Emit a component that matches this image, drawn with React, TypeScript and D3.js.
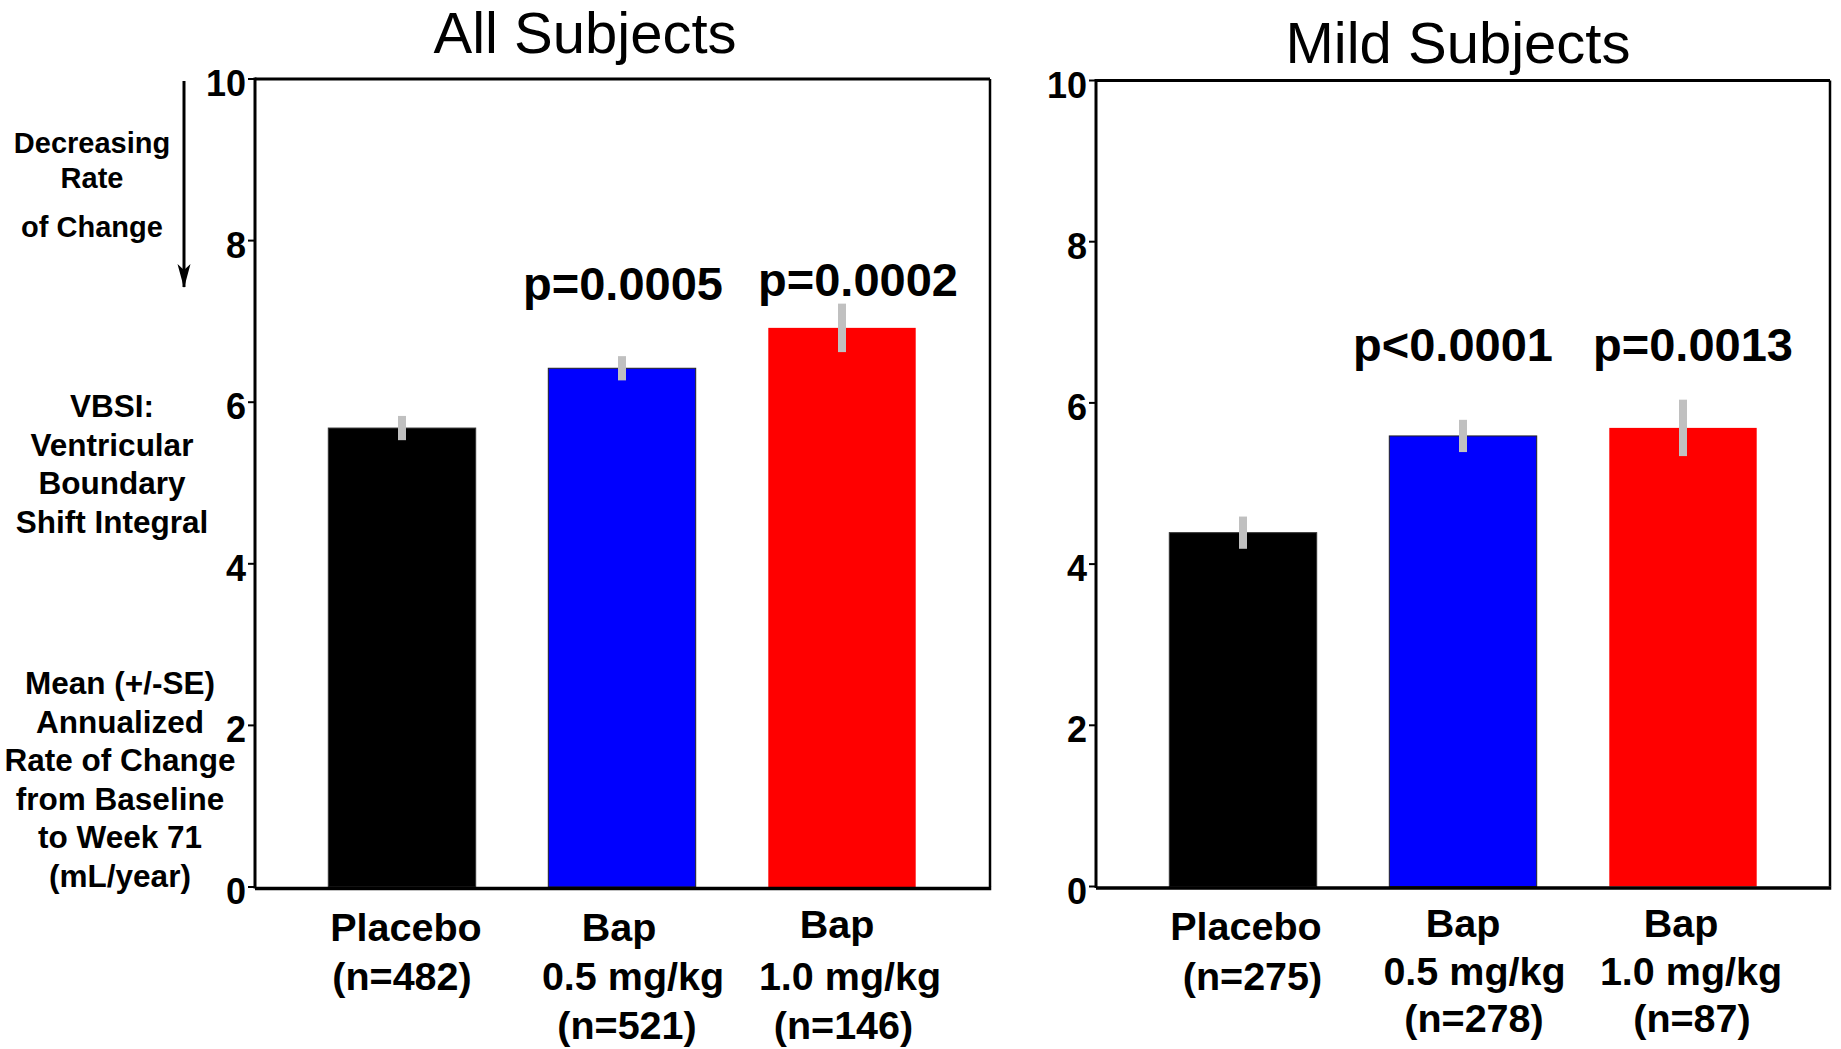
import React from "react";
import * as d3 from "d3";

// Treatment groups and their per-panel statistics
const groupLines: string[][] = [["Placebo"], ["Bap", "0.5 mg/kg"], ["Bap", "1.0 mg/kg"]];
const barColors = ["#000000", "#0000ff", "#ff0000"];
const barStrokes = ["#333333", "#222222", "none"];

const allMeans = [5.68, 6.42, 6.92];
const allSE = [0.15, 0.15, 0.3];
const allN = [482, 521, 146];
const allP = ["", "p=0.0005", "p=0.0002"];

const mildMeans = [4.39, 5.59, 5.69];
const mildSE = [0.2, 0.2, 0.35];
const mildN = [275, 278, 87];
const mildP = ["", "p<0.0001", "p=0.0013"];

const yTicks = [0, 2, 4, 6, 8, 10];

const arrowLabel = ["Decreasing", "Rate", "of Change"];
const vbsiLabel = ["VBSI:", "Ventricular", "Boundary", "Shift Integral"];
const unitLabel = ["Mean (+/-SE)", "Annualized", "Rate of Change", "from Baseline", "to Week 71", "(mL/year)"];

const FONT = "'Liberation Sans', Arial, Helvetica, sans-serif";

type PanelLayout = {
  title: string;
  titleX: number;
  titleY: number;
  x0: number;
  x1: number;
  yTop: number;
  yBottom: number;
  labelBase: number[][];
  labelNudge: number[][];
  pPos: { dx: number; y: number }[];
};

const panels: { layout: PanelLayout; means: number[]; se: number[]; n: number[]; p: string[] }[] = [
  {
    layout: {
      title: "All Subjects",
      titleX: 585,
      titleY: 53,
      x0: 255,
      x1: 990,
      yTop: 79,
      yBottom: 887,
      labelBase: [[941, 990], [941, 990, 1039], [937.5, 990, 1039]],
      labelNudge: [[4, 0], [-3, 11, 5], [-5, 8, 1.5]],
      pPos: [{ dx: 0, y: 0 }, { dx: 1, y: 300 }, { dx: 16, y: 296 }],
    },
    means: allMeans,
    se: allSE,
    n: allN,
    p: allP,
  },
  {
    layout: {
      title: "Mild Subjects",
      titleX: 1458,
      titleY: 63,
      x0: 1096,
      x1: 1830,
      yTop: 80.5,
      yBottom: 886.5,
      labelBase: [[940, 990], [936.5, 985, 1032], [936.5, 985, 1032]],
      labelNudge: [[3, 9.5], [0, 11.5, 11], [-2, 8, 9]],
      pPos: [{ dx: 0, y: 0 }, { dx: -10, y: 361 }, { dx: 10, y: 361 }],
    },
    means: mildMeans,
    se: mildSE,
    n: mildN,
    p: mildP,
  },
];

function Panel({ layout, means, se, n, p }: (typeof panels)[number]) {
  const y = d3.scaleLinear().domain([0, 10]).range([layout.yBottom, layout.yTop]);
  const x = d3
    .scaleBand<number>()
    .domain(d3.range(means.length))
    .range([layout.x0 + 37, layout.x0 + 697])
    .paddingInner(0.33)
    .paddingOuter(0.165);
  const bw = x.bandwidth();

  return (
    <g>
      <text
        x={layout.titleX}
        y={layout.titleY}
        textAnchor="middle"
        fontFamily={FONT}
        fontSize={58}
        fill="#000"
      >
        {layout.title}
      </text>

      {/* bars */}
      {means.map((m, i) => (
        <rect
          key={"b" + i}
          x={x(i)!}
          y={y(m)}
          width={bw}
          height={y(0) - y(m)}
          fill={barColors[i]}
          stroke={barStrokes[i]}
          strokeWidth={1}
        />
      ))}

      {/* standard-error bars */}
      {means.map((m, i) => (
        <line
          key={"e" + i}
          x1={x(i)! + bw / 2}
          x2={x(i)! + bw / 2}
          y1={y(m + se[i])}
          y2={y(m - se[i])}
          stroke="#c0c0c0"
          strokeWidth={8}
        />
      ))}

      {/* frame */}
      <line x1={layout.x0} x2={layout.x1} y1={layout.yTop} y2={layout.yTop} stroke="#000" strokeWidth={3} />
      <line x1={layout.x1} x2={layout.x1} y1={layout.yTop} y2={layout.yBottom} stroke="#000" strokeWidth={2.5} />
      <line x1={layout.x0} x2={layout.x0} y1={layout.yTop - 1.5} y2={layout.yBottom + 1.5} stroke="#000" strokeWidth={3} />
      <line x1={layout.x0} x2={layout.x1 + 1.25} y1={layout.yBottom + 1.5} y2={layout.yBottom + 1.5} stroke="#000" strokeWidth={3.5} />

      {/* y ticks */}
      {yTicks.map((t) => (
        <g key={"t" + t}>
          <line x1={layout.x0 - 7} x2={layout.x0} y1={y(t)} y2={y(t)} stroke="#000" strokeWidth={2} />
          <text
            x={layout.x0 - 9}
            y={y(t) + 17}
            textAnchor="end"
            fontFamily={FONT}
            fontWeight="bold"
            fontSize={36}
            fill="#000"
          >
            {t}
          </text>
        </g>
      ))}

      {/* p-values */}
      {p.map((s, i) =>
        s ? (
          <text
            key={"p" + i}
            x={x(i)! + bw / 2 + layout.pPos[i].dx}
            y={layout.pPos[i].y}
            textAnchor="middle"
            fontFamily={FONT}
            fontWeight="bold"
            fontSize={47}
            fill="#000"
          >
            {s}
          </text>
        ) : null
      )}

      {/* category labels */}
      {groupLines.map((lines, i) =>
        [...lines, `(n=${n[i]})`].map((line, j) => (
          <text
            key={"c" + i + "-" + j}
            x={x(i)! + bw / 2 + layout.labelNudge[i][j]}
            y={layout.labelBase[i][j]}
            textAnchor="middle"
            fontFamily={FONT}
            fontWeight="bold"
            fontSize={39.5}
            fill="#000"
          >
            {line}
          </text>
        ))
      )}
    </g>
  );
}

export default function App() {
  return (
    <svg
      width={1841}
      height={1049}
      style={{ position: "absolute", left: 0, top: 0, background: "#fff" }}
    >
      <defs>
        <marker id="arrowHead" viewBox="0 0 14 24" refX={7} refY={24} markerWidth={14} markerHeight={24} markerUnits="userSpaceOnUse" orient="auto-start-reverse">
          <path d="M0,0 L7,4 L14,0 L7,24 Z" fill="#000" />
        </marker>
      </defs>
      <rect x={0} y={0} width={1841} height={1049} fill="#fff" />

      {/* direction arrow with its caption */}
      <line x1={184} x2={184} y1={81} y2={287} stroke="#000" strokeWidth={3} />
      <path d="M177.5,264 L184,270 L190.5,264 L184,288 Z" fill="#000" />
      {arrowLabel.map((s, i) => (
        <text key={"a" + i} x={92} y={[153, 188, 237][i]} textAnchor="middle" fontFamily={FONT} fontWeight="bold" fontSize={29} fill="#000">
          {s}
        </text>
      ))}
      {vbsiLabel.map((s, i) => (
        <text key={"v" + i} x={112} y={417 + i * 38.5} textAnchor="middle" fontFamily={FONT} fontWeight="bold" fontSize={31.5} fill="#000">
          {s}
        </text>
      ))}
      {unitLabel.map((s, i) => (
        <text key={"u" + i} x={120} y={694 + i * 38.5} textAnchor="middle" fontFamily={FONT} fontWeight="bold" fontSize={31.5} fill="#000">
          {s}
        </text>
      ))}

      {panels.map((pn, i) => (
        <Panel key={i} {...pn} />
      ))}
    </svg>
  );
}
